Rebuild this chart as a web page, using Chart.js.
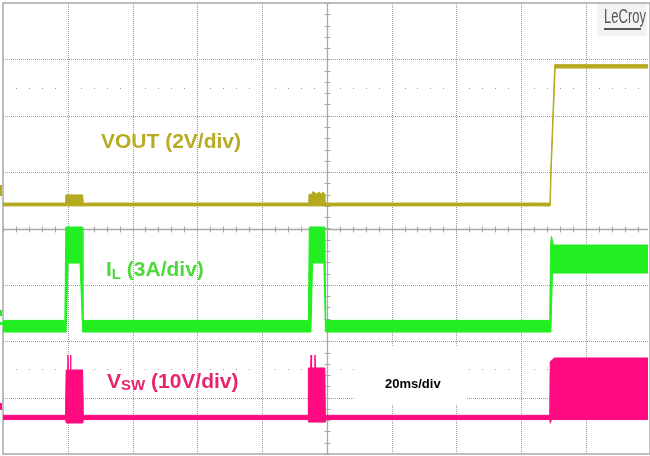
<!DOCTYPE html>
<html>
<head>
<meta charset="utf-8">
<title>VOUT / IL / VSW start-up capture</title>
<script src="https://cdn.jsdelivr.net/npm/chart.js@4.4.1/dist/chart.umd.min.js"></script>
<style>
  html, body { margin: 0; padding: 0; background: #fff; }
  #wrap { width: 650px; height: 456px; }
</style>
</head>
<body>
<div id="wrap"><canvas id="scope" width="650" height="456"></canvas></div>
<script>
// time base 20 ms/div, screen is 10 divs wide (right edge slightly clipped)
const timeMin = -100;
const timeMax = 99.2;
const timeDivs = [-80, -60, -40, -20, 20, 40, 60, 80];
const vertDivs = [-3, -2, -1, 1, 2, 3];

// channel settings: units per div, ground position in divs from centre
const voutScale = 2, voutZero = 0.426;
const ilScale = 3, ilZero = -1.73;
const vswScale = 10, vswZero = -3.344;

// VOUT (V) - top and bottom edge of the trace
const voutHiT = [-100, -80.8, -80.6, -75.4, -75.2, -5.7, -5.5, -4.6, -4.3, -3.0, -2.6, -1.5, -1.2, -0.6, -0.45, 68.9, 69.15, 70.4, 99.2];
const voutHiV = [0.05, 0.05, 0.34, 0.34, 0.05, 0.05, 0.36, 0.36, 0.46, 0.36, 0.44, 0.36, 0.45, 0.36, 0.05, 0.05, 1.19, 4.96, 4.96];
const voutLoT = [-100, 69.05, 69.3, 70.55, 99.2];
const voutLoV = [-0.05, -0.05, 1.19, 4.84, 4.84];

// IL (A)
const ilHiT = [-100, -80.9, -80.6, -75.6, -75.3, -5.7, -5.4, -0.6, -0.3, 68.85, 69.1, 69.4, 70.0, 99.2];
const ilHiV = [0.3, 0.3, 5.27, 5.27, 0.3, 0.3, 5.27, 5.27, 0.3, 0.3, 4.3, 4.79, 4.31, 4.31];
const ilLoT = [-100, -80.5, -79.9, -76.2, -75.4, -4.9, -4.4, -0.9, -0.4, 69.2, 69.7, 99.2];
const ilLoV = [-0.32, -0.32, 3.35, 3.35, -0.32, -0.32, 3.35, 3.35, -0.32, -0.32, 2.82, 2.82];

// VSW (V)
const vswHiT = [-100, -80.7, -80.5, -80.1, -79.95, -79.8, -79.3, -79.15, -79.0, -75.4, -75.2, -5.8, -5.7, -5.0, -4.85, -4.7, -3.8, -3.65, -3.5, -0.6, -0.45, 68.85, 69.0, 70.3, 99.2];
const vswHiV = [0.3, 0.3, 8.34, 8.34, 11.0, 8.34, 8.34, 11.0, 8.34, 8.34, 0.3, 0.3, 8.7, 8.7, 11.0, 8.7, 8.7, 11.0, 8.7, 8.7, 0.3, 0.3, 9.8, 10.47, 10.47];
const vswLoT = [-100, -80.6, -80.5, -75.3, -75.2, -5.7, -5.6, -0.5, -0.4, 68.9, 69.0, 69.4, 99.2];
const vswLoV = [-0.45, -0.45, -1.06, -1.06, -0.45, -0.45, -0.9, -0.9, -0.45, -0.45, -1.1, -0.45, -0.45];

const olive = '#b4a91f';
const green = '#22ee22';
const pink = '#ff0a80';

function pts(t, v) {
    return t.map((x, i) => ({ x: x, y: v[i] }));
}

function chanAxis(scale, zero) {
    return { type: 'linear', display: false, min: (-4 - zero) * scale, max: (4 - zero) * scale };
}

function trace(t, v, color, axis, fill) {
    return {
        data: pts(t, v),
        yAxisID: axis,
        borderColor: color,
        backgroundColor: color,
        borderWidth: 1,
        pointRadius: 0,
        tension: 0,
        fill: fill
    };
}

// graticule: dotted grid, centre cross with ticks, border, blanked box for the time label
const graticule = {
    id: 'graticule',
    beforeDatasetsDraw(chart) {
        const { ctx, chartArea: a, scales } = chart;
        const xs = scales.x, ys = scales.y;
        const cx = Math.round(xs.getPixelForValue(0)) + 0.5;
        const cy = Math.round(ys.getPixelForValue(0)) + 0.5;
        ctx.save();

        ctx.strokeStyle = '#9b9b9b';
        ctx.lineWidth = 1;
        ctx.setLineDash([1, 1]);
        timeDivs.forEach(t => {
            const px = Math.round(xs.getPixelForValue(t)) + 0.5;
            ctx.beginPath(); ctx.moveTo(px, a.top); ctx.lineTo(px, a.bottom); ctx.stroke();
        });
        vertDivs.forEach(d => {
            const py = Math.round(ys.getPixelForValue(d)) + 0.5;
            ctx.beginPath(); ctx.moveTo(a.left, py); ctx.lineTo(a.right, py); ctx.stroke();
        });
        ctx.setLineDash([]);

        // sparse dot rows at +/-2.5 div
        ctx.fillStyle = '#9b9b9b';
        [2.5, -2.5].forEach(d => {
            const py = Math.round(ys.getPixelForValue(d));
            for (let t = timeMin + 4; t < timeMax; t += 4) {
                if (Math.abs(t % 20) < 0.01) continue;
                ctx.fillRect(Math.round(xs.getPixelForValue(t)), py, 1, 1);
            }
        });

        // white box behind "20ms/div"
        ctx.fillStyle = '#fff';
        ctx.fillRect(355, 346, 112, 58);

        // border
        ctx.strokeStyle = '#a8a8a8';
        ctx.lineWidth = 1.5;
        ctx.strokeRect(a.left, a.top, a.right - a.left + 2, a.bottom - a.top);

        // centre cross
        ctx.lineWidth = 1.3;
        ctx.beginPath();
        ctx.moveTo(cx, a.top); ctx.lineTo(cx, a.bottom);
        ctx.moveTo(a.left, cy); ctx.lineTo(a.right, cy);
        ctx.stroke();
        ctx.lineWidth = 1;
        ctx.beginPath();
        for (let t = timeMin; t <= timeMax; t += 4) {
            const px = Math.round(xs.getPixelForValue(t)) + 0.5;
            ctx.moveTo(px, cy - 3); ctx.lineTo(px, cy + 3);
        }
        for (let d = -4; d <= 4.001; d += 0.2) {
            const py = Math.round(ys.getPixelForValue(d)) + 0.5;
            ctx.moveTo(cx - 3, py); ctx.lineTo(cx + 3, py);
        }
        ctx.stroke();
        ctx.restore();
    },
    afterDraw(chart) {
        const ctx = chart.ctx;
        ctx.save();
        ctx.textBaseline = 'alphabetic';
        const big = 'bold 21px "Liberation Sans", Arial, sans-serif';
        const sub = 'bold 15px "Liberation Sans", Arial, sans-serif';

        // channel ground markers on the left edge
        ctx.fillStyle = olive; ctx.fillRect(0, 185, 2, 11);
        ctx.fillStyle = green; ctx.fillRect(0, 310, 2, 6); ctx.fillRect(0, 322, 3, 3);
        ctx.fillStyle = pink; ctx.fillRect(0, 403, 2, 7);

        ctx.font = big;
        ctx.fillStyle = '#b8ab22';
        ctx.fillText('VOUT (2V/div)', 101, 148);

        let x = 106;
        ctx.fillStyle = '#4ed83c';
        ctx.fillText('I', x, 276); x += ctx.measureText('I').width;
        ctx.font = sub; ctx.fillText('L', x, 279); x += ctx.measureText('L').width;
        ctx.font = big; ctx.fillText(' (3A/div)', x, 276);

        x = 107;
        ctx.fillStyle = '#e8246d';
        ctx.fillText('V', x, 388); x += ctx.measureText('V').width;
        ctx.font = sub; ctx.fillText('SW', x, 390); x += ctx.measureText('SW').width;
        ctx.font = big; ctx.fillText(' (10V/div)', x, 388);

        ctx.fillStyle = '#000';
        ctx.font = 'bold 13px "Liberation Sans", Arial, sans-serif';
        ctx.fillText('20ms/div', 385, 388);

        // LeCroy badge
        ctx.fillStyle = '#f3f3f3';
        ctx.fillRect(597, 4, 50, 32);
        ctx.font = '21px "Liberation Sans", Arial, sans-serif';
        const w = ctx.measureText('LeCroy').width;
        ctx.save();
        ctx.translate(604, 23);
        ctx.scale(42 / w, 1);
        ctx.fillStyle = '#555';
        ctx.fillText('LeCroy', 0, 0);
        ctx.restore();
        ctx.fillStyle = '#555';
        ctx.fillRect(604, 28, 37, 2);
        ctx.restore();
    }
};

new Chart(document.getElementById('scope'), {
    type: 'line',
    data: {
        datasets: [
            trace(voutHiT, voutHiV, olive, 'yV', false),
            trace(voutLoT, voutLoV, olive, 'yV', '-1'),
            trace(ilHiT, ilHiV, green, 'yI', false),
            trace(ilLoT, ilLoV, green, 'yI', '-1'),
            trace(vswHiT, vswHiV, pink, 'yS', false),
            trace(vswLoT, vswLoV, pink, 'yS', '-1')
        ]
    },
    options: {
        responsive: false,
        animation: false,
        layout: { padding: { left: 3, top: 3, right: 2, bottom: 2 } },
        plugins: { legend: { display: false }, tooltip: { enabled: false } },
        scales: {
            x: { type: 'linear', display: false, min: timeMin, max: timeMax },
            y: { type: 'linear', display: false, min: -4, max: 4 },
            yV: chanAxis(voutScale, voutZero),
            yI: chanAxis(ilScale, ilZero),
            yS: chanAxis(vswScale, vswZero)
        }
    },
    plugins: [graticule]
});
</script>
</body>
</html>
